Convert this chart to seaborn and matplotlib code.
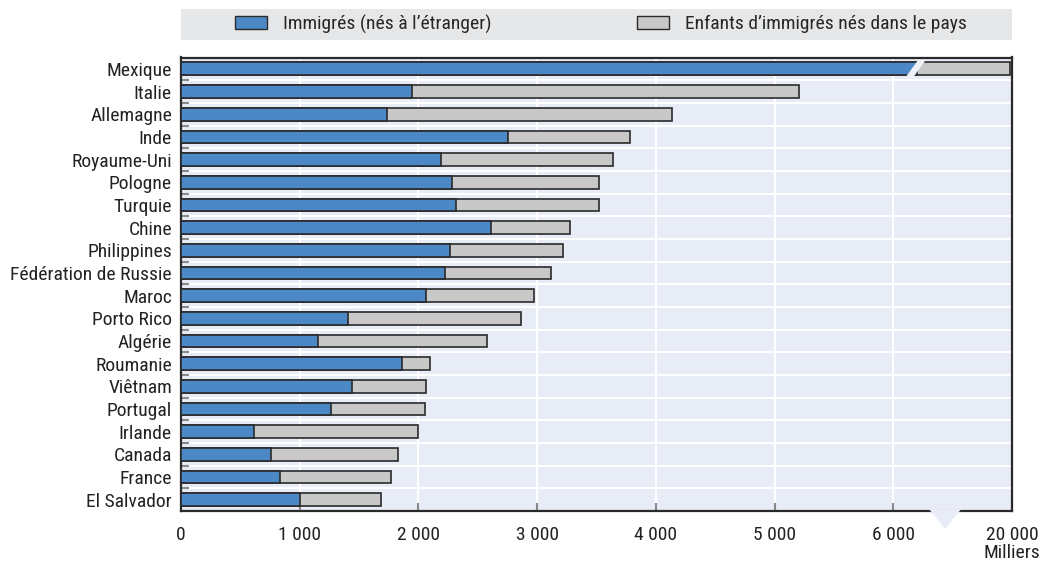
import numpy as np
import pandas as pd
import matplotlib
matplotlib.use("Agg")
import matplotlib.pyplot as plt
import matplotlib.transforms as mtrans
from matplotlib.patches import Patch, Polygon, Rectangle
import seaborn as sns

# ---- data (thousands; Mexique drawn on the broken part of the axis) ----
countries = ["Mexique", "Italie", "Allemagne", "Inde", "Royaume-Uni", "Pologne",
             "Turquie", "Chine", "Philippines", "Fédération de Russie", "Maroc",
             "Porto Rico", "Algérie", "Roumanie", "Viêtnam", "Portugal", "Irlande",
             "Canada", "France", "El Salvador"]
immigres = [6200, 1942, 1739, 2757, 2189, 2285, 2317, 2612, 2270, 2221, 2067,
            1403, 1150, 1861, 1441, 1264, 615, 756, 837, 1003]
total = [6985, 5206, 4132, 3784, 3636, 3523, 3517, 3277, 3218, 3120, 2972,
         2862, 2578, 2096, 2067, 2056, 1999, 1831, 1772, 1688]
xtick_vals = [0, 1000, 2000, 3000, 4000, 5000, 6000, 7000]
xtick_labels = ["0", "1 000", "2 000", "3 000", "4 000", "5 000", "6 000", "20 000"]
legend_labels = ["Immigrés (nés à l\u2019étranger)", "Enfants d\u2019immigrés nés dans le pays"]
unit_label = "Milliers"

BLUE = "#4d88c6"
GREY = "#c8c8c8"
EDGE = "#2a2a2a"
BG = "#e8ecf6"
FS = 14

sns.set_theme(style="white")
plt.rcParams["font.family"] = ["Roboto Condensed", "Archivo Narrow", "PT Sans Narrow",
                               "Liberation Sans", "DejaVu Sans"]

fig = plt.figure(figsize=(10.45, 5.64), dpi=100)
W, H = 1045, 564
ax = fig.add_axes([181 / W, 1 - 511 / H, 831 / W, (511 - 57.5) / H])
ax.set_facecolor(BG)

df = pd.DataFrame({"pays": countries, "immigres": immigres, "total": total})
sns.barplot(data=df, y="pays", x="total", color=GREY, saturation=1,
            edgecolor=EDGE, linewidth=1.2, width=0.56, ax=ax, zorder=3)
sns.barplot(data=df, y="pays", x="immigres", color=BLUE, saturation=1,
            edgecolor=EDGE, linewidth=1.2, width=0.56, ax=ax, zorder=4)

ax.set_xlim(0, 7000)
ax.set_ylim(len(countries) - 0.5, -0.5)
ax.set_xlabel("")
ax.set_ylabel("")

ax.set_xticks(xtick_vals)
ax.set_xticklabels(xtick_labels, fontsize=FS, color="#222222")
ax.tick_params(axis="x", direction="in", length=6, width=1.5, color="#8a8a8a",
               pad=11, bottom=True)
ax.tick_params(axis="y", which="major", length=0, pad=6.5, labelsize=FS,
               labelcolor="#222222")
ax.set_yticks(np.arange(0.5, len(countries) - 1, 1), minor=True)
ax.tick_params(axis="y", which="minor", direction="in", length=6, width=1.5,
               color="#8a8a8a", left=True)

ax.set_axisbelow(True)
ax.xaxis.grid(True, color="white", lw=1.5)
ax.yaxis.grid(True, which="minor", color="white", lw=1.5)
ax.yaxis.grid(False, which="major")

for s in ax.spines.values():
    s.set_visible(True)
    s.set_color(EDGE)
    s.set_linewidth(1.6)

# break mark in the Mexique bar
ax.add_patch(Polygon([(6100, 0.4), (6165, 0.4), (6275, -0.4), (6210, -0.4)],
                     closed=True, facecolor="#eef1f8", edgecolor="none", zorder=6))
# break marker under the axis
tr = mtrans.blended_transform_factory(ax.transData, ax.transAxes)
ax.add_patch(Polygon([(6302, 0.004), (6571, 0.004), (6436, -0.04)], closed=True,
                     facecolor=BG, edgecolor="none", transform=tr, clip_on=False,
                     zorder=10))

fig.text(1012 / W, 1 - 553 / H, unit_label, ha="center", va="center",
         fontsize=FS, color="#222222")

# legend band
fig.patches.append(Rectangle((181 / W, 1 - 40 / H), 831 / W, 31 / H,
                             transform=fig.transFigure, facecolor="#e6e7e8",
                             edgecolor="none", zorder=0))
handles = [Patch(facecolor=BLUE, edgecolor=EDGE, lw=1),
           Patch(facecolor=GREY, edgecolor=EDGE, lw=1)]
fig.legend(handles, legend_labels, loc="center left",
           bbox_to_anchor=(235 / W, 1 - 24 / H), frameon=False, ncol=2,
           fontsize=FS, handlelength=1.65, handleheight=0.72, handletextpad=0.8,
           columnspacing=7.5, borderpad=0, borderaxespad=0)

fig.savefig("out.png", dpi=100)
